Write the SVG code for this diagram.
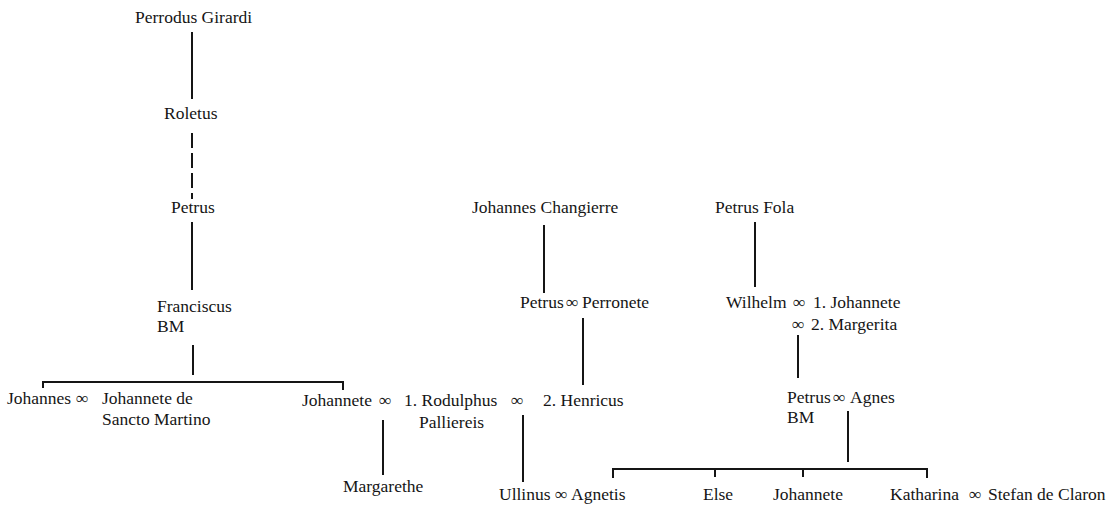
<svg xmlns="http://www.w3.org/2000/svg" width="1112" height="508" viewBox="0 0 1112 508">
<style>
text{font-family:'Liberation Serif','DejaVu Serif','Times New Roman',serif;font-size:17.5px;fill:#151515}
.c{stroke:#151515;stroke-width:2;fill:none}
.d{stroke-dasharray:15 5}
</style>
<rect width="1112" height="508" fill="#fff"/>
<g id="connectors">
<line class="c" x1="192" y1="32" x2="192" y2="99"/>
<line class="c d" x1="192" y1="133" x2="192" y2="199"/>
<line class="c" x1="192" y1="222" x2="192" y2="290"/>
<line class="c" x1="193" y1="345" x2="193" y2="375"/>
<path class="c" d="M43,388 V382 H343 V390"/>
<line class="c" x1="383" y1="420" x2="383" y2="475"/>
<line class="c" x1="544" y1="225" x2="544" y2="293"/>
<line class="c" x1="583" y1="318" x2="583" y2="385"/>
<line class="c" x1="523" y1="415" x2="523" y2="482"/>
<line class="c" x1="755" y1="222" x2="755" y2="287"/>
<line class="c" x1="798" y1="335" x2="798" y2="378"/>
<line class="c" x1="848" y1="411" x2="848" y2="462"/>
<path class="c" d="M613,478 V469 H927 V478 M715,469 V477 M803,469 V477"/>
</g>
<g id="perrodus"><text x="135" y="23">Perrodus Girardi</text></g>
<g id="roletus"><text x="164" y="119">Roletus</text></g>
<g id="petrus1"><text x="171" y="213">Petrus</text></g>
<g id="franciscus"><text x="157" y="312">Franciscus</text><text x="157" y="332">BM</text></g>
<g id="johannes"><text x="7" y="404">Johannes</text><text x="76" y="404">∞</text><text x="102" y="404">Johannete de</text><text x="102" y="425">Sancto Martino</text></g>
<g id="johannete1"><text x="302" y="406">Johannete</text><text x="379" y="406">∞</text><text x="404" y="406">1. Rodulphus</text><text x="419" y="428">Palliereis</text><text x="511" y="406">∞</text></g>
<g id="henricus"><text x="543" y="406">2. Henricus</text></g>
<g id="margarethe"><text x="343" y="492">Margarethe</text></g>
<g id="changierre"><text x="472" y="213">Johannes Changierre</text></g>
<g id="petrus2"><text x="520" y="308">Petrus</text><text x="566" y="308">∞</text><text x="582" y="308">Perronete</text></g>
<g id="ullinus"><text x="499" y="500">Ullinus</text><text x="555" y="500">∞</text><text x="571" y="500">Agnetis</text></g>
<g id="fola"><text x="715" y="213">Petrus Fola</text></g>
<g id="wilhelm"><text x="726" y="308">Wilhelm</text><text x="793" y="308">∞</text><text x="813" y="308">1. Johannete</text><text x="792" y="330">∞</text><text x="811" y="330">2. Margerita</text></g>
<g id="petrus3"><text x="787" y="403">Petrus</text><text x="833" y="403">∞</text><text x="850" y="403">Agnes</text><text x="787" y="423">BM</text></g>
<g id="else"><text x="703" y="500">Else</text></g>
<g id="johannete2"><text x="773" y="500">Johannete</text></g>
<g id="katharina"><text x="890" y="500">Katharina</text><text x="969" y="500">∞</text><text x="988" y="500">Stefan de Claron</text></g>
</svg>
